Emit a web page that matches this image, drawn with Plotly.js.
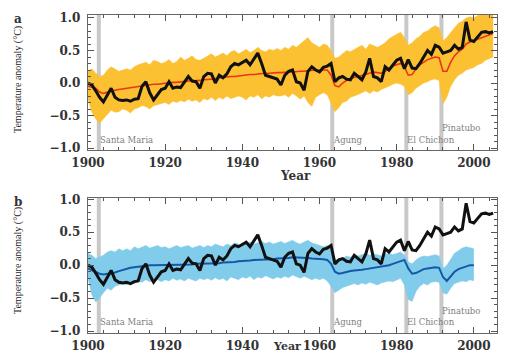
<!DOCTYPE html>
<html>
<head>
<meta charset="utf-8">
<script src="https://cdn.plot.ly/plotly-3.0.1.min.js"></script>
<style>html,body{margin:0;padding:0;background:#fff;}#chart{width:507px;height:353px;}</style>
</head>
<body>
<div id="chart"></div>
<script>
// ---- Data ----
const yearsObs = Array.from({length: 106}, (_, i) => 1900 + i);   // 1900-2005
const yearsNat = Array.from({length: 101}, (_, i) => 1900 + i);   // 1900-2000

// Observed anomaly (black), 1900-2005
const observed = [
  0.00,-0.03,-0.12,-0.22,-0.29,-0.18,-0.08,-0.22,-0.26,-0.27,
 -0.26,-0.28,-0.25,-0.24,-0.05, 0.02,-0.15,-0.26,-0.18,-0.10,
 -0.08, 0.02,-0.08,-0.06,-0.07, 0.02, 0.10, 0.03, 0.02,-0.08,
  0.10, 0.15, 0.14, 0.00, 0.12, 0.08, 0.14, 0.25, 0.30, 0.28,
  0.32, 0.35, 0.28, 0.38, 0.46, 0.30, 0.12, 0.10, 0.08, 0.06,
 -0.03, 0.12, 0.18, 0.20, 0.02, 0.00,-0.11, 0.18, 0.25, 0.20,
  0.17, 0.24, 0.26, 0.30, 0.02, 0.08, 0.10, 0.06, 0.05, 0.15,
  0.10, 0.05, 0.17, 0.38, 0.10, 0.08, 0.02, 0.25, 0.20, 0.28,
  0.35, 0.38, 0.22, 0.36, 0.23, 0.22, 0.30, 0.40, 0.50, 0.44,
  0.58, 0.55, 0.46, 0.48, 0.50, 0.58, 0.52, 0.55, 0.94, 0.66,
  0.64, 0.71, 0.78, 0.79, 0.77, 0.79
];

// All-forcing ensemble mean (red), 1900-2005
const allMean = [
 -0.05,-0.06,-0.08,-0.14,-0.16,-0.14,-0.12,-0.11,-0.10,-0.09,
 -0.08,-0.08,-0.07,-0.05,-0.04,-0.03,-0.03,-0.02,-0.02,-0.01,
  0.00, 0.00, 0.01, 0.01, 0.02, 0.02, 0.03, 0.03, 0.03, 0.04,
  0.05, 0.05, 0.06, 0.07, 0.08, 0.08, 0.09, 0.10, 0.10, 0.11,
  0.12, 0.12, 0.13, 0.13, 0.14, 0.15, 0.15, 0.15, 0.16, 0.16,
  0.16, 0.17, 0.17, 0.17, 0.18, 0.18, 0.18, 0.19, 0.19, 0.20,
  0.20, 0.20, 0.20, 0.12,-0.04,-0.06, 0.00, 0.04, 0.07, 0.09,
  0.10, 0.12, 0.14, 0.16, 0.17, 0.16, 0.15, 0.18, 0.22, 0.26,
  0.28, 0.30, 0.25, 0.12, 0.13, 0.22, 0.28, 0.32, 0.36, 0.38,
  0.40, 0.39, 0.18, 0.18, 0.32, 0.42, 0.48, 0.52, 0.60, 0.63,
  0.65, 0.68, 0.70, 0.72, 0.74, 0.76
];

// All-forcing ensemble spread (yellow), upper and lower edges, 1900-2005
const allUpper = [
  0.18, 0.22, 0.15, 0.10, 0.12, 0.20, 0.25, 0.22, 0.18, 0.20,
  0.22, 0.20, 0.25, 0.28, 0.30, 0.32, 0.28, 0.35, 0.33, 0.30,
  0.32, 0.36, 0.30, 0.33, 0.40, 0.35, 0.38, 0.42, 0.36, 0.35,
  0.38, 0.42, 0.45, 0.40, 0.43, 0.46, 0.42, 0.48, 0.50, 0.45,
  0.48, 0.52, 0.47, 0.50, 0.55, 0.50, 0.48, 0.52, 0.50, 0.53,
  0.50, 0.55, 0.52, 0.58, 0.55, 0.60, 0.65, 0.70, 0.62, 0.58,
  0.55, 0.60, 0.58, 0.50, 0.38, 0.40, 0.45, 0.50, 0.48, 0.52,
  0.55, 0.58, 0.52, 0.60, 0.58, 0.55, 0.58, 0.62, 0.68, 0.72,
  0.75, 0.78, 0.70, 0.58, 0.62, 0.68, 0.72, 0.78, 0.80, 0.85,
  0.88, 0.85, 0.65, 0.70, 0.78, 0.85, 0.92, 0.95, 1.00, 1.02,
  1.00, 1.04, 1.05, 1.05, 1.05, 1.05
];
const allLower = [
 -0.25,-0.45,-0.55,-0.62,-0.55,-0.48,-0.42,-0.45,-0.44,-0.40,
 -0.42,-0.46,-0.40,-0.38,-0.35,-0.36,-0.40,-0.35,-0.33,-0.32,
 -0.30,-0.33,-0.28,-0.30,-0.27,-0.29,-0.25,-0.28,-0.26,-0.30,
 -0.24,-0.26,-0.22,-0.27,-0.22,-0.25,-0.20,-0.24,-0.22,-0.20,
 -0.22,-0.26,-0.20,-0.22,-0.18,-0.24,-0.20,-0.22,-0.18,-0.20,
 -0.20,-0.18,-0.22,-0.16,-0.20,-0.25,-0.20,-0.30,-0.36,-0.22,
 -0.18,-0.15,-0.18,-0.30,-0.44,-0.38,-0.30,-0.28,-0.22,-0.20,
 -0.18,-0.15,-0.12,-0.16,-0.12,-0.14,-0.10,-0.08,-0.05,-0.02,
  0.00,-0.02,-0.05,-0.18,-0.15,-0.08,-0.04, 0.00, 0.02, 0.05,
  0.06, 0.04,-0.32,-0.22,-0.05, 0.05, 0.12, 0.15, 0.20, 0.22,
  0.24, 0.28, 0.30, 0.35, 0.38, 0.40
];

// Natural-only ensemble mean (blue), 1900-2000
const natMean = [
 -0.05,-0.08,-0.11,-0.13,-0.14,-0.13,-0.13,-0.11,-0.09,-0.07,
 -0.05,-0.04,-0.03,-0.02,-0.02,-0.01, 0.00, 0.00, 0.00, 0.00,
  0.00, 0.00, 0.01, 0.00, 0.00, 0.01, 0.01, 0.01, 0.02, 0.02,
  0.02, 0.02, 0.03, 0.03, 0.03, 0.04, 0.04, 0.05, 0.05, 0.06,
  0.06, 0.07, 0.07, 0.08, 0.08, 0.09, 0.09, 0.09, 0.09, 0.10,
  0.10, 0.10, 0.11, 0.12, 0.12, 0.12, 0.11, 0.11, 0.10, 0.10,
  0.09, 0.09, 0.08, 0.02,-0.10,-0.13,-0.12,-0.10,-0.09,-0.08,
 -0.08,-0.07,-0.06,-0.05,-0.05,-0.04,-0.03,-0.02, 0.00, 0.02,
  0.04, 0.06, 0.08,-0.05,-0.13,-0.12,-0.09,-0.06,-0.05,-0.04,
 -0.03,-0.04,-0.18,-0.24,-0.17,-0.10,-0.06,-0.04,-0.02, 0.00,
  0.00
];

// Natural-only ensemble spread (light blue), 1900-2000
const natUpper = [
  0.18, 0.15, 0.10, 0.12, 0.15, 0.20, 0.22, 0.20, 0.25, 0.22,
  0.25, 0.22, 0.28, 0.25, 0.27, 0.30, 0.26, 0.28, 0.30, 0.27,
  0.28, 0.25, 0.28, 0.30, 0.27, 0.28, 0.30, 0.26, 0.28, 0.30,
  0.27, 0.30, 0.28, 0.32, 0.30, 0.28, 0.32, 0.30, 0.34, 0.32,
  0.30, 0.33, 0.35, 0.32, 0.34, 0.36, 0.33, 0.35, 0.32, 0.34,
  0.36, 0.33, 0.35, 0.38, 0.34, 0.32, 0.35, 0.38, 0.34, 0.32,
  0.30, 0.28, 0.30, 0.22, 0.10, 0.06, 0.10, 0.14, 0.12, 0.15,
  0.14, 0.16, 0.18, 0.15, 0.17, 0.16, 0.14, 0.17, 0.18, 0.16,
  0.18, 0.20, 0.15, 0.05, 0.02, 0.08, 0.12, 0.14, 0.13, 0.15,
  0.16, 0.14,-0.05, 0.00, 0.10, 0.18, 0.22, 0.26, 0.28, 0.27,
  0.25
];
const natLower = [
 -0.20,-0.45,-0.56,-0.50,-0.42,-0.35,-0.38,-0.32,-0.30,-0.28,
 -0.30,-0.25,-0.28,-0.24,-0.26,-0.22,-0.25,-0.24,-0.22,-0.25,
 -0.22,-0.24,-0.20,-0.23,-0.21,-0.24,-0.20,-0.22,-0.24,-0.20,
 -0.22,-0.20,-0.23,-0.19,-0.22,-0.20,-0.24,-0.18,-0.20,-0.22,
 -0.18,-0.20,-0.17,-0.22,-0.18,-0.20,-0.16,-0.19,-0.21,-0.18,
 -0.20,-0.17,-0.19,-0.15,-0.18,-0.20,-0.17,-0.19,-0.22,-0.20,
 -0.22,-0.20,-0.24,-0.32,-0.42,-0.38,-0.34,-0.32,-0.30,-0.28,
 -0.30,-0.27,-0.29,-0.26,-0.28,-0.30,-0.27,-0.26,-0.24,-0.25,
 -0.22,-0.20,-0.30,-0.52,-0.55,-0.40,-0.32,-0.28,-0.30,-0.26,
 -0.25,-0.26,-0.42,-0.44,-0.35,-0.28,-0.26,-0.24,-0.25,-0.22,
 -0.24
];

// Volcanic eruptions
const volcanoYears = [1902.8, 1963.3, 1982.5, 1991.6];
const volcanoNames = ['Santa Maria', 'Agung', 'El Chichon', 'Pinatubo'];
const volcanoLabelY = [-0.87, -0.87, -0.87, -0.69];

// tick labels
const xTicks = [1900, 1920, 1940, 1960, 1980, 2000];
const yTicks = [-1.0, -0.5, 0.0, 0.5, 1.0];

// ---- Styles ----
const YELLOW = 'rgb(251,193,50)';
const LIGHTBLUE = 'rgb(128,204,234)';
const RED = 'rgb(236,52,22)';
const BLUE = 'rgb(22,88,168)';
const BLACK = '#111';
const TICKFONT = {family: 'DejaVu Serif', size: 12, color: '#333', weight: 'bold'};

function band(x, lo, hi, color, xa, ya) {
  return [
    {x: x, y: lo, xaxis: xa, yaxis: ya, type: 'scatter', mode: 'lines',
     line: {width: 0.5, color: color}, hoverinfo: 'skip', showlegend: false},
    {x: x, y: hi, xaxis: xa, yaxis: ya, type: 'scatter', mode: 'lines', fill: 'tonexty',
     fillcolor: color, line: {width: 0.5, color: color}, hoverinfo: 'skip', showlegend: false}
  ];
}
function line(x, y, color, width, xa, ya) {
  return {x: x, y: y, xaxis: xa, yaxis: ya, type: 'scatter', mode: 'lines',
          line: {color: color, width: width}, showlegend: false};
}

const traces = [
  ...band(yearsObs, allLower, allUpper, YELLOW, 'x', 'y'),
  line(yearsObs, allMean, RED, 1.6, 'x', 'y'),
  line(yearsObs, observed, BLACK, 3, 'x', 'y'),
  ...band(yearsNat, natLower, natUpper, LIGHTBLUE, 'x2', 'y2'),
  line(yearsNat, natMean, BLUE, 2, 'x2', 'y2'),
  line(yearsObs, observed, BLACK, 3, 'x2', 'y2')
];

function xAxis(anchor) {
  return {
    domain: [88/507, 497/507], range: [1900, 2006], anchor: anchor,
    tickmode: 'array', tickvals: xTicks, ticktext: xTicks.map(String),
    ticks: 'inside', ticklen: 6, tickwidth: 1, tickcolor: '#555',
    minor: {dtick: 4, tick0: 1900, ticks: 'inside', ticklen: 3, tickcolor: '#555'},
    showline: true, linecolor: '#666', linewidth: 1.2, mirror: 'ticks',
    showgrid: false, zeroline: false, tickfont: TICKFONT, ticklabelstandoff: 1
  };
}
function yAxis(anchor, dom, rng) {
  return {
    domain: dom, range: rng, anchor: anchor,
    tickmode: 'array', tickvals: yTicks, ticktext: yTicks.map(v => (v < 0 ? '\u2212' : '') + Math.abs(v).toFixed(1)),
    ticks: 'inside', ticklen: 6, tickwidth: 1, tickcolor: '#555',
    minor: {dtick: 0.1, tick0: 0, ticks: 'inside', ticklen: 3, tickcolor: '#555'},
    showline: true, linecolor: '#666', linewidth: 1.2, mirror: 'ticks',
    showgrid: false, zeroline: false, tickfont: TICKFONT, ticklabelstandoff: 4
  };
}

const shapes = [];
const annotations = [];
[['x', 'y'], ['x2', 'y2']].forEach(([xa, ya]) => {
  volcanoYears.forEach((yr, i) => {
    shapes.push({type: 'line', xref: xa, yref: ya + ' domain', x0: yr, x1: yr, y0: 0, y1: 1,
                 line: {color: 'rgb(200,200,200)', width: 4}, layer: 'below'});
    annotations.push({xref: xa, yref: ya, x: yr, y: volcanoLabelY[i], text: volcanoNames[i],
                      showarrow: false, xanchor: 'left', yanchor: 'middle', borderpad: 0,
                      font: {family: 'DejaVu Serif', size: 8.5, color: '#808080'}});
  });
});

const titleFont = {family: 'Liberation Serif', size: 10, color: '#222'};
annotations.push(
  {xref: 'paper', yref: 'paper', x: 18/507, y: 1 - 80/353, text: 'Temperature anomaly (°C)',
   textangle: -90, showarrow: false, xanchor: 'center', yanchor: 'middle', font: titleFont},
  {xref: 'paper', yref: 'paper', x: 18/507, y: 1 - 261/353, text: 'Temperature anomaly (°C)',
   textangle: -90, showarrow: false, xanchor: 'center', yanchor: 'middle', font: titleFont},
  {xref: 'paper', yref: 'paper', x: 18/507, y: 1 - 19/353, text: '<b>a</b>',
   showarrow: false, xanchor: 'center', yanchor: 'middle', font: {family: 'DejaVu Serif', size: 12, color: '#333'}},
  {xref: 'paper', yref: 'paper', x: 18/507, y: 1 - 202/353, text: '<b>b</b>',
   showarrow: false, xanchor: 'center', yanchor: 'middle', font: {family: 'DejaVu Serif', size: 12, color: '#333'}},
  {xref: 'paper', yref: 'paper', x: 295/507, y: 1 - 176/353, text: '<b>Year</b>',
   showarrow: false, xanchor: 'center', yanchor: 'middle', borderpad: 0, font: {family: 'DejaVu Serif', size: 12, color: '#333'}},
  {xref: 'paper', yref: 'paper', x: 287/507, y: 0, text: '<b>Year</b>',
   showarrow: false, xanchor: 'center', yanchor: 'bottom', borderpad: 0, yshift: -1, font: {family: 'DejaVu Serif', size: 11, color: '#333'}}
);

const layout = {
  width: 507, height: 353, autosize: false,
  margin: {l: 0, r: 0, t: 0, b: 0, pad: 0},
  paper_bgcolor: '#fff', plot_bgcolor: '#fff',
  showlegend: false,
  xaxis: xAxis('y'),
  yaxis: yAxis('x', [1 - 150/353, 1 - 15/353], [-1.03, 1.046]),
  xaxis2: xAxis('y2'),
  yaxis2: yAxis('x2', [1 - 333/353, 1 - 198/353], [-1.03, 1.02]),
  shapes: shapes,
  annotations: annotations
};

Plotly.newPlot('chart', traces, layout, {staticPlot: true, displayModeBar: false});
</script>
</body>
</html>
